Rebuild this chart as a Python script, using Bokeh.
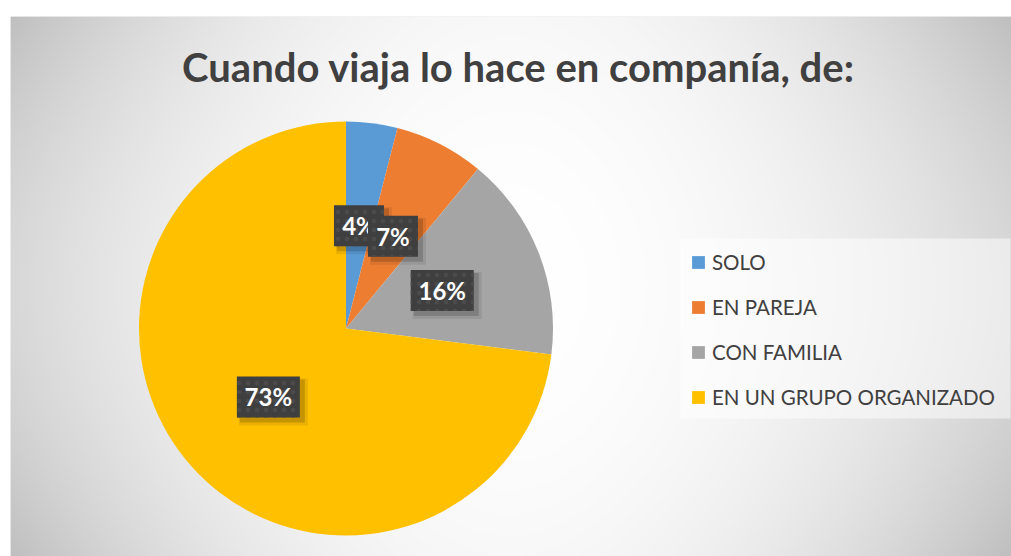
import numpy as np
from bokeh.plotting import figure
from bokeh.models import ColumnDataSource, Range1d, Legend, LegendItem
from bokeh.core.properties import value
from bokeh.embed import file_html
from bokeh.resources import INLINE

# ---- data ----
categories = ["SOLO", "EN PAREJA", "CON FAMILIA", "EN UN GRUPO ORGANIZADO"]
percentages = [4, 7, 16, 73]
colors = ["#5B9BD5", "#ED7D31", "#A5A5A5", "#FFC000"]
title_text = "Cuando viaja lo hace en companía, de:"

FONT = "Lato"
W, H = 1001, 540

p = figure(width=1011, height=556, output_backend="svg", toolbar_location=None,
           x_range=Range1d(0, W), y_range=Range1d(0, H),
           x_axis_location=None, y_axis_location=None,
           min_border_left=10, min_border_top=16, min_border_right=0, min_border_bottom=0)
p.grid.visible = False
p.outline_line_color = None
p.background_fill_color = "#e6e6e6"
p.border_fill_color = "white"

# ---- background gradient (style) ----
ny, nx = H // 2, (W + 1) // 2
xs = (np.arange(nx) + 0.5) * 2
ys = (np.arange(ny) + 0.5) * 2
X, Y = np.meshgrid(xs, ys)
u = (X - 500) / (W / 2)
v = (Y - 270) / (H / 2)
d = 40 * u ** 2 + 7 * v ** 2 + 17 * u ** 2 * v ** 2
g = np.clip(255 - d, 0, 255).astype(np.uint8)
img = np.empty((ny, nx), dtype=np.uint32)
view = img.view(dtype=np.uint8).reshape((ny, nx, 4))
view[..., 0] = g
view[..., 1] = g
view[..., 2] = g
view[..., 3] = 255
p.image_rgba(image=[img], x=0, y=0, dw=W, dh=H)

# ---- legend background panel (style) ----
p.quad(left=[670], right=[1000], bottom=[138], top=[318],
       fill_color="white", fill_alpha=0.5, line_color=None)

# ---- pie ----
cx, cy, R = 335.5, 228.0, 207.0
vals = np.array(percentages, dtype=float)
fr = vals / vals.sum()
cum_end = np.cumsum(fr)
cum_start = cum_end - fr
start = np.pi / 2 - 2 * np.pi * cum_end
end = np.pi / 2 - 2 * np.pi * cum_start
mid = (cum_start + cum_end) / 2

src = ColumnDataSource(dict(cat=categories, start=start, end=end, color=colors))
wr = p.wedge(x=cx, y=cy, radius=R, start_angle="start", end_angle="end",
             fill_color="color", line_color=None, source=src)

# ---- data labels ----
labels = [f"{round(f * 100)}%" for f in fr]
lx = cx + 0.5 * R * np.sin(2 * np.pi * mid)
ly = cy + 0.5 * R * np.cos(2 * np.pi * mid)
for i, lab in enumerate(labels):
    bw = 24 + 13 * len(lab)
    bh = 41
    s = ColumnDataSource(dict(x=[lx[i]], y=[ly[i]], t=[lab]))
    p.rect(x=lx[i] + 5, y=ly[i] - 5, width=bw + 6, height=bh + 6,
           fill_color="black", fill_alpha=0.08, line_color=None)
    p.rect(x=lx[i] + 4, y=ly[i] - 4, width=bw + 2, height=bh + 2,
           fill_color="black", fill_alpha=0.16, line_color=None)
    p.rect(x="x", y="y", width=bw, height=bh, source=s,
           fill_color="#3f3f3f", line_color=None,
           hatch_pattern="dot", hatch_color="#4b4b4b", hatch_scale=9, hatch_weight=1.5)
    p.text(x="x", y="y", text="t", source=s, text_font=value(FONT),
           text_font_style="bold", text_font_size="24px", text_color="white",
           text_align="center", text_baseline="middle")

# ---- title ----
p.text(x=[508], y=[490], text=[title_text], text_font=value(FONT),
       text_font_style="bold", text_font_size="40px", text_color="#404040",
       text_align="center", text_baseline="alphabetic")

# ---- legend ----
items = [LegendItem(label=c, renderers=[wr], index=i) for i, c in enumerate(categories)]
legend = Legend(items=items, location=(680, 147), orientation="vertical",
                glyph_width=16, glyph_height=16, label_height=20, spacing=21,
                padding=11, label_standoff=6, margin=0,
                label_text_font=FONT, label_text_font_size="20.5px",
                label_text_color="#404040",
                background_fill_alpha=0, border_line_color=None)
p.add_layout(legend)

open("out.html", "w").write(file_html(p, INLINE))
